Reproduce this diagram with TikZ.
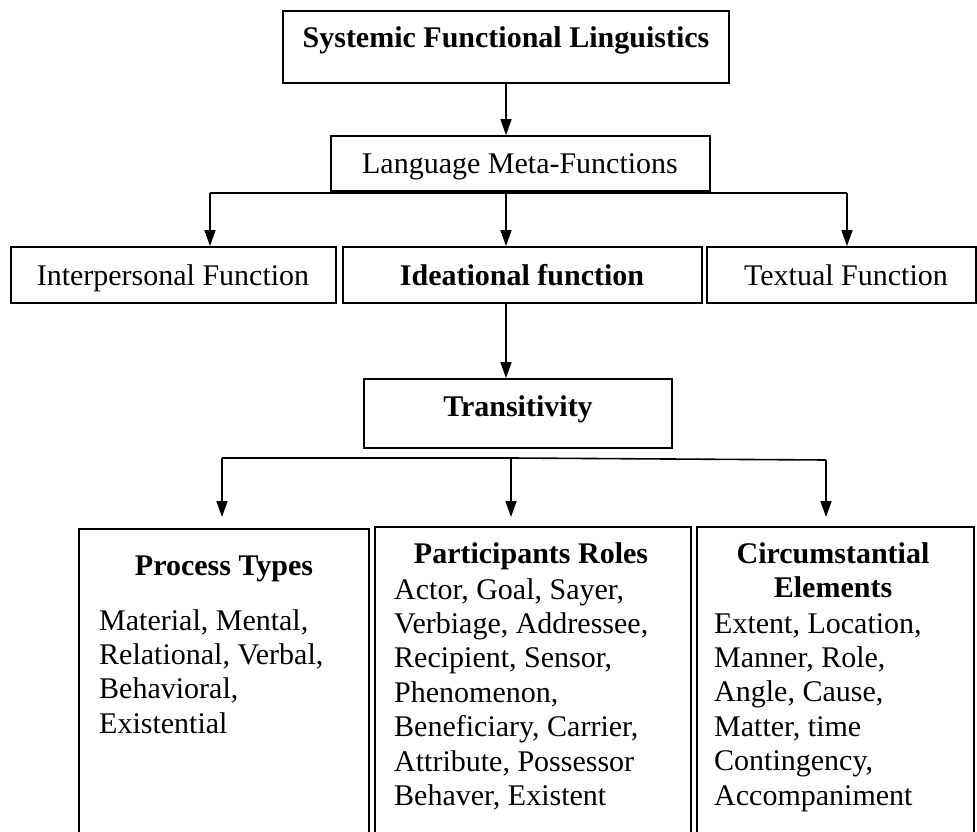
\documentclass[tikz,border=0pt]{standalone}
\usepackage{fontspec}
\setmainfont{Liberation Serif}
\usetikzlibrary{arrows.meta}
\begin{document}
\begin{tikzpicture}[x=1pt,y=-1pt,
  box/.style={draw=black, line width=1.8pt, inner sep=0pt, rectangle},
  lbl/.style={inner sep=0pt, font=\fontsize{30}{34.4}\selectfont, anchor=base},
  blbl/.style={lbl, font=\fontsize{30}{34.4}\selectfont\bfseries},
  lst/.style={inner sep=0pt, font=\fontsize{30}{34.4}\selectfont, anchor=base west},
  conn/.style={line width=1.6pt},
  arr/.style={conn, -{Triangle[length=16pt,width=11pt]}}]
\useasboundingbox (0,0) rectangle (977,832);
\clip (0,0) rectangle (977,832);
% boxes
\node[box, minimum width=446pt, minimum height=72pt] (sfl) at (506,47) {};
\node[box, minimum width=379pt, minimum height=55pt] (lmf) at (520.5,163.5) {};
\node[box, minimum width=325pt, minimum height=56pt] (ip) at (173.5,275) {};
\node[box, minimum width=359pt, minimum height=56pt] (idf) at (522.5,275) {};
\node[box, minimum width=269pt, minimum height=56pt] (tf) at (841.5,275) {};
\node[box, minimum width=308pt, minimum height=69pt] (trans) at (518,413.5) {};
\node[box, minimum width=290pt, minimum height=321pt] (pt) at (224,689.5) {};
\node[box, minimum width=316pt, minimum height=323pt] (pr) at (533,688.5) {};
\node[box, minimum width=277pt, minimum height=323pt] (ce) at (835.5,688.5) {};
% texts
\node[blbl] (sflt) at (506,48) {Systemic Functional Linguistics};
\node[lbl] (lmft) at (520,173) {Language Meta-Functions};
\node[lbl] (ipt) at (173,285) {Interpersonal Function};
\node[blbl] (idft) at (522,285) {Ideational function};
\node[lbl] (tft) at (846,285) {Textual Function};
\node[blbl] (transt) at (518,416) {Transitivity};
\node[blbl] (ptt) at (224,575) {Process Types};
\node[lst] (ptl) at (99,630) {\begin{tabular}[t]{@{}l@{}}Material, Mental,\\Relational, Verbal,\\Behavioral,\\Existential\end{tabular}};
\node[blbl] (prt) at (531,563) {Participants Roles};
\node[lst] (prl) at (394,599) {\begin{tabular}[t]{@{}l@{}}Actor, Goal, Sayer,\\Verbiage, Addressee,\\Recipient, Sensor,\\Phenomenon,\\Beneficiary, Carrier,\\Attribute, Possessor\\Behaver, Existent\end{tabular}};
\node[blbl] (cet) at (833,563) {\begin{tabular}[t]{@{}c@{}}Circumstantial\\Elements\end{tabular}};
\node[lst] (cel) at (714,633) {\begin{tabular}[t]{@{}l@{}}Extent, Location,\\Manner, Role,\\Angle, Cause,\\Matter, time\\Contingency,\\Accompaniment\end{tabular}};
% connectors
\draw[arr] (sfl.south) -- (lmf.north -| sfl.south);
\coordinate (j1) at (506,193);
\coordinate (j1l) at (210,193);
\coordinate (j1r) at (847,193);
\draw[conn] (j1l) -- (j1r);
\draw[conn] (lmf.south -| j1) -- (j1);
\draw[arr] (j1l) -- (j1l |- ip.north);
\draw[arr] (j1) -- (j1 |- idf.north);
\draw[arr] (j1r) -- (j1r |- tf.north);
\draw[arr] (idf.south -| j1) -- (trans.north -| j1);
\coordinate (j2) at (511,458);
\coordinate (j2l) at (222,458);
\coordinate (j2r) at (826,460);
\coordinate (e1) at (222,517);
\coordinate (e2) at (511,517);
\coordinate (e3) at (826,517);
\draw[conn] (j2l) -- (j2) -- (j2r);
\draw[arr] (j2l) -- (e1);
\draw[arr] (j2) -- (e2);
\draw[arr] (j2r) -- (e3);
\end{tikzpicture}
\end{document}
